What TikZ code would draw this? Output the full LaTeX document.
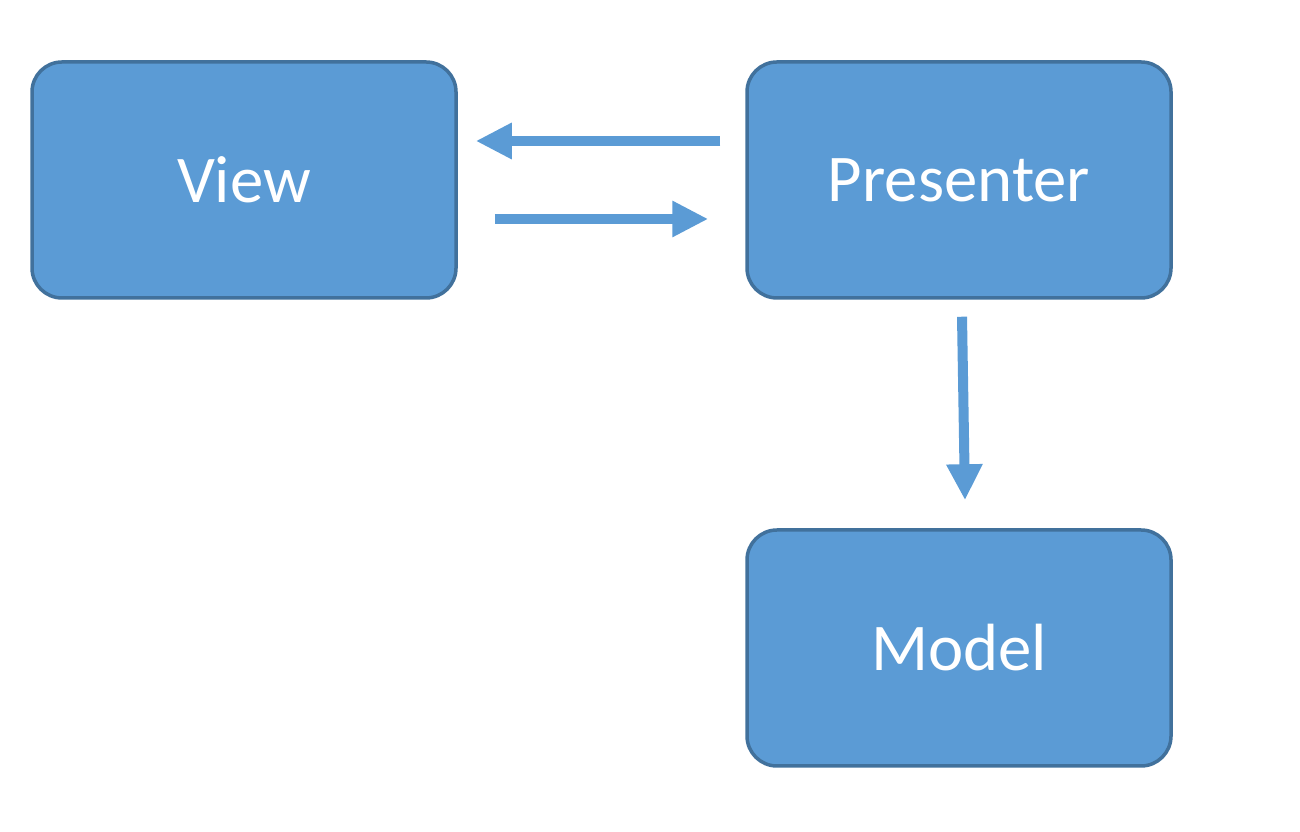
\documentclass[tikz,border=0pt]{standalone}
\usepackage{fontspec}
\setmainfont{Carlito}
\usetikzlibrary{arrows.meta,calc}
\definecolor{boxfill}{HTML}{5B9BD5}
\definecolor{boxline}{HTML}{41719C}
\definecolor{arrowcol}{HTML}{5B9BD5}
\tikzset{
  block/.style={draw=boxline, line width=0.035cm, fill=boxfill, rounded corners=0.3cm,
    minimum width=4.24cm, minimum height=2.36cm, text=white, font=\fontsize{19}{22}\selectfont},
  conn/.style={draw=arrowcol, line width=0.1cm, -{Triangle[length=0.36cm,width=0.34cm]}}
}
\begin{document}
\begin{tikzpicture}
\useasboundingbox (0,0) rectangle (13,8.32);
\node[block] (view) at (2.44,6.52) {View};
\node[block] (pres) at (9.59,6.52) {Presenter};
\node[block] (model) at (9.59,1.84) {Model};
\draw[conn] ($(pres.west)+(-0.25,0.39)$) -- ($(view.east)+(0.18,0.39)$);
\draw[conn] ($(view.east)+(0.37,-0.39)$) -- ($(pres.west)+(-0.37,-0.39)$);
\draw[conn] ($(pres.south)+(0.03,-0.17)$) -- ($(model.north)+(0.06,0.28)$);
\end{tikzpicture}
\end{document}
